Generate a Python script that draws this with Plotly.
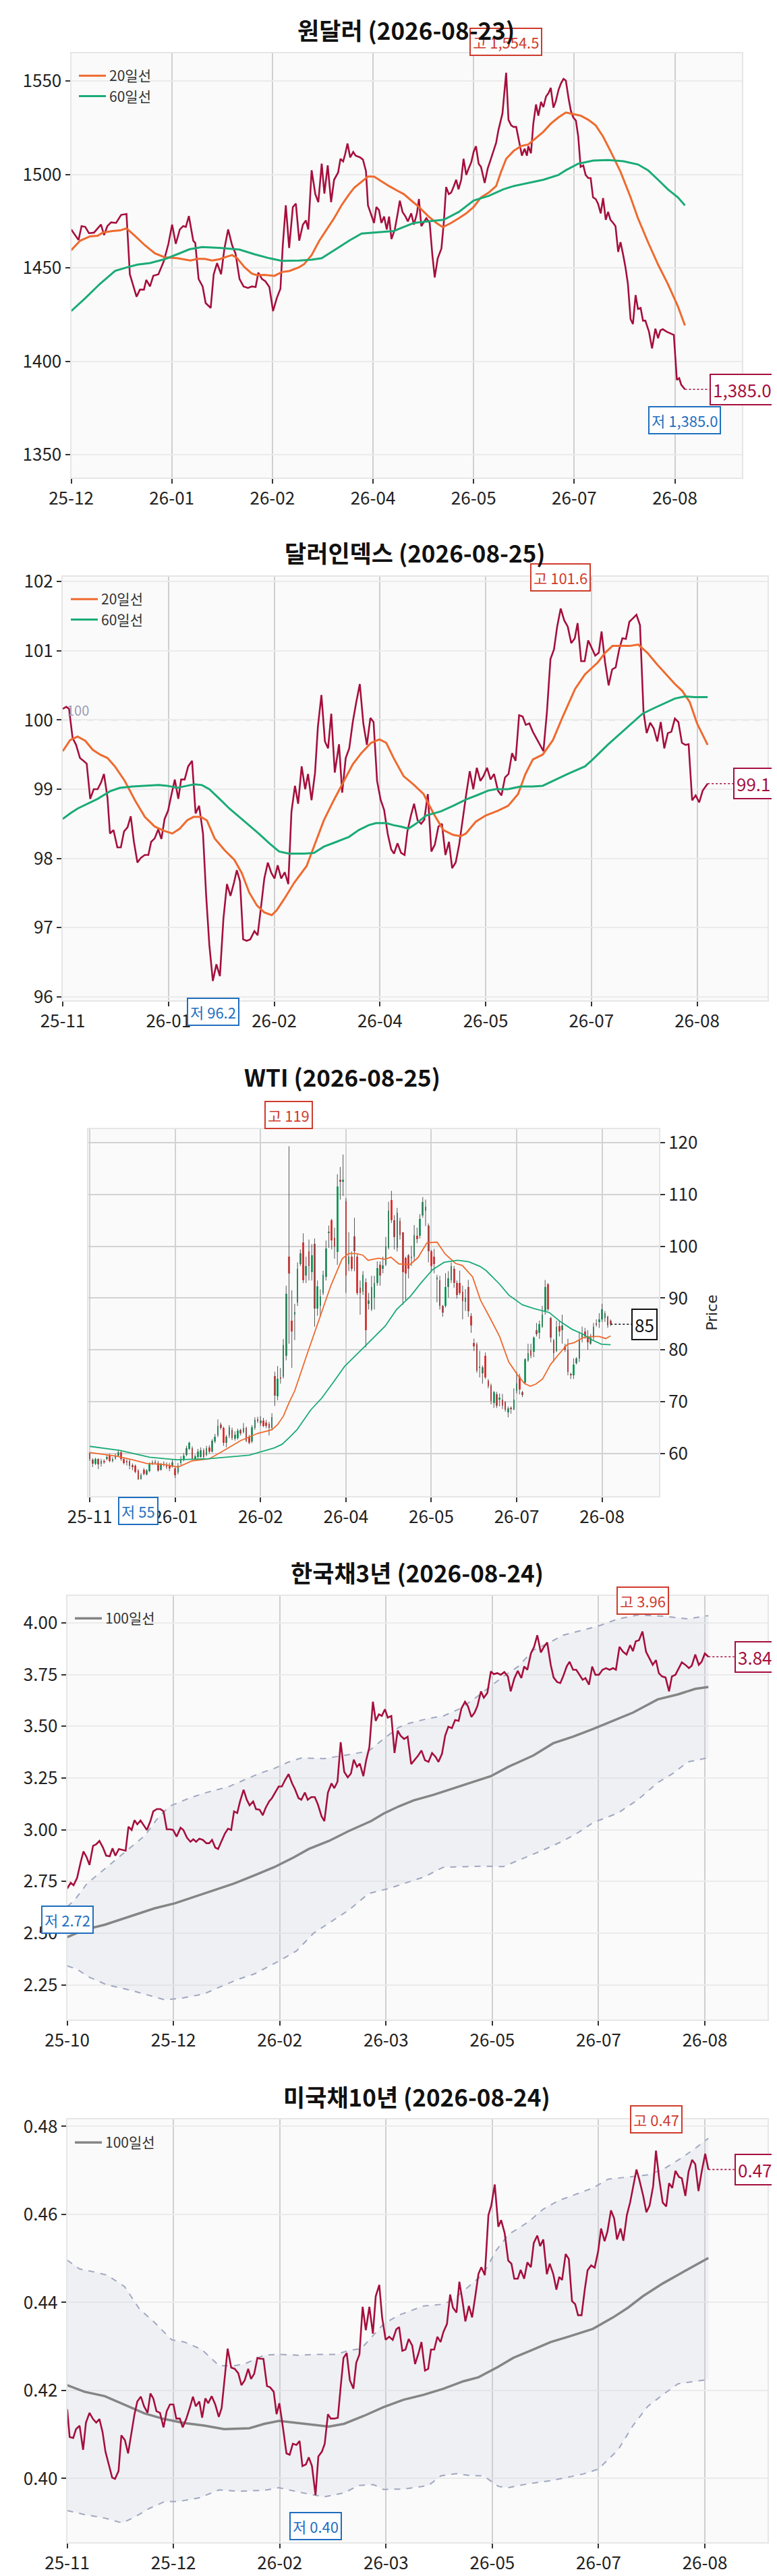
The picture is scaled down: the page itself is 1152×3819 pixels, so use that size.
import plotly.graph_objects as go

FONT = "Noto Sans CJK KR"
W, H = 1152, 3819

CRIMSON = "#a50f3d"
ORANGE = "#ef6a2e"
GREEN = "#1aab76"
GREY = "#858585"
BAND = "#a0a8c0"
HI = "#cf3b2c"
LO = "#1f6fbf"
UP = "#1db46e"
DOWN = "#fd3a3a"

TICK_POS = [0, 30, 60, 90, 120, 150, 180]

# ---------------- 원달러 ----------------
usd_title = "원달러 (2026-08-23)"
usd_ticks = ["25-12", "26-01", "26-02", "26-04", "26-05", "26-07", "26-08"]
usd_pts = [
    (0, 1470.6), (2.2, 1465.0), (3.1, 1472.4), (4.2, 1472.0), (5.3, 1468.6), (6.8, 1468.9), (8.9, 1473.2),
    (9.8, 1467.6), (10.8, 1472.4), (11.9, 1474.4), (13.4, 1474.1), (14.9, 1478.4), (16.5, 1478.9),
    (17.5, 1446.6), (19.5, 1434.6), (20.5, 1438.4), (21.7, 1438.4), (22.4, 1443.6), (23.5, 1440.1),
    (24.5, 1445.8), (26, 1446.6), (27.6, 1453.5), (29, 1462.9), (30.1, 1473.2), (31.2, 1462.9),
    (32.4, 1470.6), (33.4, 1472.4), (34.2, 1472.0), (35.1, 1477.8), (36.4, 1464.6), (37, 1463.4),
    (38, 1444.1), (39.2, 1440.1), (40.1, 1431.2), (41.6, 1428.6), (42.5, 1446.6), (43.5, 1452.6),
    (44.7, 1446.6), (45.7, 1460.4), (46.8, 1470.6), (48, 1462.1), (49, 1457.8), (50.2, 1444.1),
    (51.4, 1440.1), (52.7, 1439.3), (53.9, 1440.1), (55, 1439.8), (55.8, 1447.5), (56.9, 1444.1),
    (57.9, 1442.9), (59.1, 1439.8), (60.2, 1426.9), (61.3, 1433.8), (62.4, 1438.9), (63.1, 1462.1),
    (64, 1483.5), (65, 1460.7), (66.1, 1482.6), (67, 1484.4), (68, 1464.6), (69.1, 1473.2), (70, 1475.4),
    (70.7, 1470.6), (71.7, 1502.3), (72.8, 1489.5), (73.7, 1485.2), (74.7, 1505.8), (75.5, 1489.8),
    (76.5, 1504.9), (77.5, 1485.2), (78.4, 1497.2), (79.6, 1501.1), (80.3, 1508.4), (81.1, 1507.0),
    (81.7, 1510.9), (82.4, 1516.6), (83.2, 1509.2), (84.1, 1512.1), (84.8, 1510.1), (86.1, 1509.2),
    (87, 1508.0), (87.9, 1501.8), (88.5, 1483.5), (89.6, 1477.5), (90.3, 1474.1), (91, 1482.6),
    (91.8, 1480.9), (92.5, 1474.1), (93.3, 1477.5), (94.1, 1470.6), (94.8, 1477.5), (95.5, 1465.5),
    (96.5, 1470.6), (97.4, 1479.5), (98, 1486.0), (98.8, 1480.0), (99.7, 1477.5), (100.4, 1474.9),
    (101.4, 1479.2), (102.2, 1473.2), (103.1, 1479.2), (103.7, 1486.9), (104.4, 1472.4), (105.9, 1476.6),
    (106.9, 1474.1), (107.7, 1456.9), (108.4, 1444.9), (109.3, 1455.2), (110.4, 1460.4), (111.1, 1474.1),
    (111.8, 1493.3), (112.6, 1489.5), (113.3, 1490.3), (114.1, 1493.8), (114.8, 1497.2), (115.5, 1492.1),
    (116.3, 1497.2), (117, 1508.4), (117.8, 1499.8), (118.5, 1503.2), (119.3, 1506.6), (120, 1512.1),
    (120.7, 1515.2), (121.5, 1505.8), (122.2, 1504.1), (123.3, 1495.5), (124.2, 1503.2), (124.9, 1507.0),
    (125.9, 1512.6), (126.7, 1516.9), (127.4, 1523.8), (128.2, 1530.6), (128.6, 1532.7), (129.7, 1554.5),
    (130.4, 1529.3), (131.2, 1526.3), (131.9, 1525.5), (132.7, 1525.5), (133.4, 1518.6), (134.4, 1510.1),
    (135.2, 1513.8), (135.9, 1510.1), (136.3, 1515.2), (137.1, 1511.4), (137.8, 1527.2), (138.6, 1537.5),
    (139.3, 1531.5), (140.1, 1538.9), (140.8, 1536.1), (141.6, 1541.8), (142.3, 1543.5), (143, 1546.4),
    (143.8, 1535.8), (144.5, 1539.2), (145.3, 1545.2), (146, 1548.6), (146.8, 1551.2), (147.5, 1550.3),
    (148.3, 1540.9), (149, 1534.1), (149.7, 1530.6), (150.5, 1528.9), (151.2, 1520.3), (151.9, 1504.1),
    (152.7, 1504.9), (153.4, 1499.8), (154.2, 1498.1), (154.9, 1498.1), (155.6, 1487.8), (156.4, 1486.9),
    (157.1, 1484.4), (157.9, 1479.2), (158.6, 1487.4), (159.4, 1475.8), (160.1, 1480.0), (160.8, 1475.8),
    (161.6, 1474.1), (162.3, 1472.4), (163.1, 1458.6), (163.8, 1463.8), (164.6, 1456.9), (165.3, 1450.1),
    (166, 1441.5), (166.8, 1422.6), (167.5, 1420.0), (168.3, 1435.5), (169, 1428.1), (169.8, 1428.6),
    (170.5, 1421.8), (171.2, 1421.8), (172.3, 1415.8), (173.2, 1406.9), (174.2, 1417.5), (175, 1412.4),
    (175.7, 1416.6), (176.4, 1417.2), (177.6, 1415.8), (178.7, 1415.0), (179.7, 1414.1), (180.6, 1390.1),
    (181.3, 1391.0), (181.9, 1387.5), (183, 1385.0),
]
usd_ma20 = [
    (0, 1459.5), (2.7, 1464.6), (5.6, 1466.9), (7.9, 1467.2), (9.4, 1468.9), (12.3, 1469.8), (14.6, 1470.1),
    (16.5, 1471.2), (19, 1467.2), (22, 1462.1), (25, 1457.8), (27.9, 1455.7), (31.6, 1455.2), (35.6, 1454.0),
    (37.6, 1454.9), (39.8, 1454.9), (42, 1454.0), (44.3, 1454.7), (46.5, 1456.1), (48, 1456.9), (49.5, 1455.2),
    (51.7, 1450.4), (53.9, 1447.0), (55.4, 1446.1), (57.6, 1446.3), (60.6, 1445.8), (62.8, 1447.8),
    (65.1, 1448.4), (68, 1450.4), (69.5, 1452.1), (71.7, 1456.9), (74, 1464.6), (76.2, 1470.6), (78.4, 1476.6),
    (80.6, 1483.5), (82.9, 1489.5), (84.4, 1492.9), (86.6, 1496.3), (88.5, 1498.9), (90.3, 1498.9),
    (92.5, 1496.3), (94.8, 1493.8), (97, 1491.6), (99.2, 1489.5), (101.4, 1486.1), (103.7, 1482.6),
    (106.6, 1477.5), (108.9, 1474.1), (110.8, 1471.8), (113.3, 1474.1), (115.6, 1476.6), (117.8, 1479.2),
    (120, 1482.6), (122.2, 1487.8), (124.5, 1490.3), (126.7, 1493.8), (128.2, 1501.5), (129.7, 1508.4),
    (131.9, 1512.6), (134.1, 1515.2), (136.3, 1516.1), (138.6, 1519.5), (140.8, 1522.9), (143, 1527.2),
    (145.3, 1530.6), (147.5, 1533.2), (149.7, 1532.3), (151.9, 1531.5), (154.2, 1529.3), (156.4, 1526.3),
    (158.6, 1520.3), (160.8, 1512.6), (163.8, 1501.5), (166.8, 1487.8), (169, 1476.6), (172, 1463.8),
    (175, 1451.8), (177.9, 1441.5), (180.9, 1429.5), (183, 1419.2),
]
usd_ma60 = [
    (0, 1426.9), (4.2, 1433.8), (8.6, 1441.5), (13.1, 1448.4), (16.8, 1450.4), (19.8, 1451.8), (23.5, 1452.6),
    (27.9, 1454.7), (31.6, 1457.3), (35.3, 1460.0), (39.1, 1461.2), (44.3, 1460.7), (50.2, 1459.8),
    (54.7, 1457.3), (59.1, 1455.2), (62.8, 1453.8), (68, 1454.0), (71.7, 1454.4), (74.7, 1455.2),
    (78.4, 1459.5), (82.9, 1464.6), (86.6, 1468.4), (89.6, 1468.9), (96.2, 1469.8), (99.2, 1472.0),
    (102.2, 1474.1), (105.9, 1474.8), (111.1, 1475.8), (115.6, 1480.0), (120, 1486.1), (124.5, 1488.6),
    (128.9, 1492.1), (131.9, 1493.8), (136.3, 1495.5), (140.8, 1497.2), (145.3, 1499.8), (147.5, 1502.3),
    (151.2, 1505.8), (155.7, 1507.5), (160.1, 1507.8), (164.6, 1507.1), (169, 1505.4), (172, 1502.3),
    (175, 1497.2), (177.9, 1492.1), (180.9, 1487.8), (183, 1483.5),
]

# ---------------- 달러인덱스 ----------------
dxy_title = "달러인덱스 (2026-08-25)"
dxy_ticks = ["25-11", "26-01", "26-02", "26-04", "26-05", "26-07", "26-08"]
dxy_pts = [
    (0, 100.16), (1, 100.19), (1.8, 100.16), (2.8, 99.74), (3.8, 99.64), (4.9, 99.45), (5.9, 99.41),
    (6.8, 99.37), (7.8, 98.86), (8.8, 99.00), (9.9, 99.00), (10.9, 99.10), (11.7, 99.22), (12.7, 98.88),
    (13.4, 98.36), (14.4, 98.41), (15.5, 98.16), (16.5, 98.16), (17.4, 98.39), (18.4, 98.45), (19.3, 98.61),
    (20.2, 98.24), (21.2, 97.94), (22.2, 98.01), (23.3, 98.05), (24.3, 98.05), (25.1, 98.24), (26.1, 98.29),
    (27.1, 98.42), (28, 98.28), (28.9, 98.57), (29.9, 98.69), (30.8, 98.91), (31.8, 99.14), (32.8, 98.86),
    (33.6, 99.14), (34.6, 99.14), (35.6, 99.33), (36.7, 99.41), (37.7, 98.65), (38.7, 98.76), (39.8, 98.36),
    (40.7, 97.46), (41.6, 96.75), (42.6, 96.23), (43.6, 96.47), (44.6, 96.30), (45.6, 97.13), (46.6, 97.63),
    (47.6, 97.46), (48.6, 97.65), (49.4, 97.83), (50.3, 97.67), (51.2, 96.83), (52.2, 96.81), (53.2, 96.83),
    (54.4, 96.95), (55.3, 96.89), (56.2, 97.27), (57.2, 97.71), (58.2, 97.94), (59.2, 97.79), (60.1, 97.71),
    (61, 97.90), (62, 97.71), (63, 97.80), (64, 97.63), (64.9, 98.67), (65.9, 99.05), (66.8, 98.79),
    (67.8, 99.33), (68.8, 99.00), (69.6, 99.22), (70.6, 98.84), (71.6, 99.24), (72.4, 99.90), (73.4, 100.36),
    (74.4, 99.69), (75.3, 99.59), (76.2, 100.09), (77.2, 99.24), (78.4, 99.65), (79.3, 98.95), (80.3, 99.45),
    (81.3, 99.59), (82.3, 99.97), (83.3, 100.26), (84.3, 100.52), (85.3, 99.95), (86.3, 99.64), (87.3, 100.03),
    (88.2, 99.97), (89.2, 99.12), (90.2, 98.85), (91.2, 98.70), (92.2, 98.36), (93.2, 98.13), (94, 98.07),
    (95, 98.22), (96, 98.08), (97, 98.05), (97.8, 98.39), (98.8, 98.62), (99.7, 98.79), (100.7, 98.55),
    (101.7, 98.50), (102.6, 98.56), (103.6, 98.93), (104.6, 98.10), (105.6, 98.20), (106.6, 98.46),
    (107.6, 98.50), (108.6, 98.05), (109.6, 98.24), (110.5, 97.86), (111.5, 97.94), (112.5, 98.20),
    (113.5, 98.58), (114.5, 98.93), (115.5, 99.26), (116.5, 99.00), (117.5, 99.31), (118.5, 99.12),
    (119.4, 99.19), (120.4, 99.31), (121.4, 99.14), (122.4, 99.22), (123.5, 98.98), (124.5, 98.91),
    (125.5, 99.17), (126.5, 99.22), (127.5, 99.52), (128.5, 99.41), (129.5, 100.07), (130.5, 100.05),
    (131.4, 99.93), (132.4, 99.95), (133.4, 99.83), (134.4, 99.74), (135.4, 99.64), (136.4, 99.55),
    (137.4, 100.12), (138.4, 100.88), (139.4, 101.02), (140.3, 101.35), (141.3, 101.61), (142.3, 101.44),
    (143.3, 101.35), (144.3, 101.11), (145.3, 101.18), (146.1, 101.40), (147.1, 100.85), (148.1, 100.85),
    (149.1, 101.15), (150.1, 101.04), (151.1, 100.93), (152.1, 100.97), (152.9, 101.28), (153.9, 100.83),
    (154.9, 100.50), (155.9, 100.73), (156.9, 100.76), (157.9, 101.02), (158.8, 101.18), (159.8, 101.17),
    (160.8, 101.42), (161.8, 101.47), (162.8, 101.52), (163.8, 101.37), (164.8, 100.12), (165.7, 99.81),
    (166.7, 99.96), (167.7, 99.88), (168.7, 99.69), (169.7, 99.97), (170.7, 99.59), (171.7, 99.81),
    (172.7, 99.83), (173.7, 100.02), (174.7, 99.97), (175.7, 99.67), (176.7, 99.64), (177.6, 99.65),
    (178.6, 98.84), (179.6, 98.91), (180.6, 98.81), (181.6, 98.98), (183, 99.08),
]
dxy_ma20 = [
    (0, 99.55), (2.1, 99.71), (4.2, 99.76), (6.4, 99.70), (8.5, 99.57), (10.6, 99.50), (12.7, 99.45),
    (14.8, 99.33), (17.6, 99.12), (20.5, 98.84), (23.3, 98.60), (26.1, 98.46), (28.7, 98.40), (31.1, 98.36),
    (33.2, 98.43), (35.3, 98.55), (37.1, 98.60), (39.2, 98.60), (40.9, 98.55), (43.1, 98.29), (45.9, 98.12),
    (48.7, 97.98), (50.8, 97.79), (52.9, 97.51), (55.1, 97.32), (57.2, 97.22), (59.3, 97.18), (60.7, 97.25),
    (62.8, 97.41), (65.7, 97.65), (69.2, 97.89), (71.3, 98.17), (74.1, 98.55), (76.9, 98.84), (79.8, 99.12),
    (82.3, 99.36), (84.7, 99.52), (87.5, 99.67), (89.9, 99.72), (91.8, 99.67), (93.9, 99.45), (96.7, 99.19),
    (99.5, 99.07), (102.4, 98.93), (105.2, 98.65), (108, 98.41), (110.8, 98.34), (112.9, 98.32),
    (114.4, 98.36), (117.2, 98.53), (120, 98.62), (123.5, 98.69), (126.4, 98.76), (129.2, 98.93),
    (131.3, 99.22), (133.4, 99.43), (136.2, 99.50), (139.1, 99.71), (141.9, 100.05), (145.4, 100.45),
    (148.2, 100.66), (151.8, 100.83), (153.9, 100.97), (156, 101.07), (158.8, 101.07), (160.9, 101.07),
    (163.3, 101.09), (165.9, 100.97), (168.7, 100.80), (171.5, 100.64), (173.7, 100.52), (175.8, 100.42),
    (177.9, 100.26), (180, 99.95), (183, 99.64),
]
dxy_ma60 = [
    (0, 98.57), (2.1, 98.65), (4.2, 98.72), (7.1, 98.79), (9.9, 98.86), (13.4, 98.97), (16.2, 99.02),
    (19.8, 99.04), (24, 99.05), (27.2, 99.06), (29.6, 99.05), (32.5, 99.02), (35.3, 99.05), (37.4, 99.07),
    (39.5, 99.06), (41.6, 99.00), (44.5, 98.86), (47.3, 98.72), (50.1, 98.60), (52.9, 98.48), (55.8, 98.35),
    (58.6, 98.22), (61.4, 98.10), (64.2, 98.07), (68.5, 98.07), (71.3, 98.08), (74.1, 98.17), (77.7, 98.24),
    (81.2, 98.31), (84, 98.41), (86.8, 98.48), (88.9, 98.51), (91.8, 98.51), (93.9, 98.48), (96, 98.46),
    (98.1, 98.43), (100.2, 98.50), (103.1, 98.62), (107.3, 98.68), (110.8, 98.76), (114.4, 98.85),
    (117.9, 98.92), (120.7, 98.98), (122.8, 99.00), (126.4, 99.00), (129.9, 99.04), (133.4, 99.04),
    (136.2, 99.05), (139.1, 99.12), (143.3, 99.22), (148.2, 99.33), (150.4, 99.43), (154.6, 99.64),
    (158.8, 99.83), (162.4, 100.00), (164.5, 100.09), (167.3, 100.16), (170.8, 100.24), (173.7, 100.31),
    (176.5, 100.34), (179.3, 100.33), (183, 100.33),
]
dxy_ref = 100

# ---------------- WTI ----------------
wti_title = "WTI (2026-08-25)"
wti_ticks = ["25-11", "26-01", "26-02", "26-04", "26-05", "26-07", "26-08"]
wti_open = [
    59.95, 58.8, 58.1, 58.9, 58.0, 58.6, 58.9, 59.6, 58.6, 59.1,
    59.6, 60.2, 58.9, 58.6, 58.6, 57.8, 57.6, 56.7, 55.1, 56.9,
    56.0, 56.6, 58.1, 58.4, 58.2, 56.9, 57.9, 57.9, 57.8, 57.6,
    57.1, 56.4, 58.2, 58.8, 59.8, 60.9, 61.1, 59.0, 59.3, 59.4,
    60.7, 59.7, 61.2, 60.4, 62.3, 63.5, 65.6, 64.9, 62.1, 63.5,
    64.5, 62.9, 63.0, 64.5, 64.2, 64.9, 63.2, 62.3, 65.0, 66.6,
    65.8, 66.4, 66.0, 65.7, 64.9, 75.0, 71.0, 74.7, 74.9, 78.9,
    98.0, 85.65, 86.8, 89.2, 96.6, 100.8, 94.3, 99.1, 95.0, 100.5,
    88.0, 88.5, 91.0, 94.1, 102.6, 105.0, 101.7, 98.9, 112.9, 112.4,
    108.7, 96.6, 98.0, 101.9, 98.0, 92.0, 91.3, 93.1, 88.9, 87.8,
    90.0, 92.9, 96.5, 95.7, 96.4, 99.7, 109.0, 105.0, 99.7, 104.9,
    102.7, 97.8, 98.3, 97.8, 98.0, 102.0, 102.0, 106.0, 106.9, 104.0,
    99.0, 98.0, 93.6, 93.4, 88.5, 88.5, 92.2, 93.4, 95.7, 92.9,
    92.9, 91.3, 89.25, 92.2, 86.6, 81.3, 81.07, 76.54, 75.5, 78.9,
    74.1, 73.2, 69.8, 71.5, 70.5, 70.4, 70.0, 68.0, 68.8, 68.5,
    72.1, 74.9, 71.9, 73.7, 77.9, 79.9, 79.6, 83.8, 83.3, 84.5,
    87.3, 92.7, 86.1, 81.9, 79.8, 84.6, 83.8, 80.75, 80.05, 75.4,
    75.1, 77.5, 78.4, 82.15, 83.5, 82.7, 81.2, 82.4, 85.0, 85.4,
    85.9, 86.1, 86.4, 85.65,
]
wti_close = [
    59.0, 58.1, 58.9, 57.9, 58.6, 58.3, 59.3, 58.6, 58.9, 59.6,
    60.2, 58.9, 58.2, 58.4, 57.6, 57.4, 56.5, 55.1, 55.9, 56.1,
    56.7, 58.0, 58.3, 58.2, 56.8, 57.9, 58.1, 57.4, 57.2, 58.3,
    55.9, 57.6, 59.0, 59.6, 61.1, 62.1, 59.0, 59.5, 60.4, 60.7,
    59.4, 61.1, 60.4, 62.5, 63.2, 65.4, 64.9, 62.1, 63.2, 65.1,
    63.0, 63.6, 64.4, 63.9, 64.9, 62.5, 62.1, 65.1, 66.5, 66.2,
    66.4, 65.4, 65.3, 65.0, 67.0, 71.2, 74.5, 74.4, 81.0, 90.8,
    94.8, 83.55, 87.3, 95.7, 98.7, 93.4, 96.2, 96.2, 98.3, 88.0,
    92.3, 90.3, 94.5, 99.5, 102.8, 101.1, 100.0, 111.5, 112.4, 112.9,
    94.3, 98.0, 95.7, 99.0, 91.0, 91.0, 94.5, 83.8, 89.6, 92.2,
    92.9, 95.8, 94.3, 96.3, 99.9, 106.8, 105.0, 101.8, 106.4, 102.2,
    95.0, 94.8, 95.7, 98.0, 102.2, 101.4, 105.3, 108.55, 107.6, 99.0,
    96.2, 96.6, 94.0, 88.5, 87.2, 92.2, 93.8, 96.2, 92.9, 90.6,
    91.0, 89.4, 90.09, 87.5, 84.7, 80.65, 76.07, 76.78, 76.6, 74.7,
    73.0, 70.1, 71.9, 69.2, 70.75, 69.3, 68.5, 68.7, 68.6, 70.4,
    73.5, 72.3, 71.3, 78.2, 79.35, 78.9, 82.4, 83.1, 84.95, 86.8,
    92.2, 87.8, 82.4, 79.35, 84.5, 83.55, 84.7, 80.05, 75.7, 75.1,
    77.24, 78.4, 81.9, 83.2, 82.7, 81.45, 82.4, 84.5, 84.9, 85.9,
    87.8, 87.1, 84.7, 84.95,
]
wti_high = [
    60.3, 59.1, 59.2, 59.1, 59.0, 58.9, 59.7, 60.0, 59.3, 60.0,
    60.8, 60.5, 59.2, 58.9, 58.9, 58.1, 57.9, 57.0, 56.2, 57.2,
    57.0, 58.3, 58.7, 58.8, 58.6, 58.2, 58.5, 58.3, 58.2, 58.9,
    57.5, 58.2, 59.5, 60.1, 61.5, 62.3, 61.4, 59.8, 60.9, 61.2,
    61.0, 61.5, 61.6, 62.8, 63.8, 66.6, 66.0, 65.2, 63.6, 65.5,
    65.0, 64.3, 64.8, 64.8, 65.9, 65.2, 63.6, 65.5, 67.0, 67.1,
    67.2, 66.9, 66.5, 66.1, 67.8, 75.8, 76.9, 76.5, 82.1, 92.4,
    119.3, 91.5, 88.9, 96.9, 99.4, 102.5, 98.0, 101.3, 100.4, 101.5,
    93.4, 91.7, 95.3, 101.1, 104.0, 105.3, 103.6, 113.9, 115.3, 117.7,
    109.3, 102.7, 99.0, 105.5, 98.5, 93.4, 95.2, 93.8, 91.0, 94.3,
    94.3, 97.1, 97.1, 98.0, 101.8, 108.6, 110.7, 106.0, 107.4, 105.5,
    102.7, 98.0, 98.5, 100.1, 104.1, 103.6, 106.2, 109.5, 109.0, 104.4,
    99.3, 99.5, 94.5, 94.3, 88.7, 94.8, 95.2, 96.9, 96.2, 93.4,
    95.3, 92.4, 91.73, 93.5, 87.1, 82.2, 81.45, 79.8, 77.0, 79.5,
    74.4, 73.5, 72.1, 71.9, 71.6, 71.5, 70.1, 69.1, 69.1, 72.6,
    75.8, 75.4, 72.1, 78.4, 81.2, 81.2, 82.6, 85.2, 85.65, 88.5,
    93.5, 92.9, 86.4, 82.15, 85.65, 85.65, 86.8, 81.2, 82.15, 75.6,
    78.4, 78.6, 83.55, 84.5, 84.25, 83.8, 83.1, 85.2, 85.9, 87.1,
    88.9, 87.5, 86.6, 85.9,
]
wti_low = [
    58.6, 57.4, 57.8, 57.0, 57.5, 58.0, 58.7, 58.3, 58.3, 58.8,
    59.4, 58.6, 57.9, 57.7, 57.0, 56.8, 56.2, 54.9, 55.0, 55.8,
    55.8, 56.4, 57.8, 57.9, 56.5, 56.7, 57.5, 57.0, 56.6, 57.3,
    55.3, 56.0, 57.8, 58.5, 59.5, 60.7, 58.8, 58.8, 59.1, 59.2,
    59.1, 59.5, 60.0, 60.2, 62.0, 63.2, 64.6, 61.5, 61.2, 63.0,
    62.6, 62.5, 62.7, 63.5, 63.9, 62.2, 61.8, 62.0, 64.6, 65.9,
    65.3, 65.1, 64.9, 63.5, 64.5, 69.2, 70.3, 73.5, 74.5, 78.0,
    81.2, 76.54, 81.9, 88.5, 96.2, 92.9, 92.9, 93.4, 93.4, 84.5,
    86.6, 86.4, 90.6, 93.4, 99.7, 99.4, 97.6, 96.4, 109.0, 109.7,
    91.0, 95.2, 95.2, 95.2, 90.6, 86.8, 90.6, 80.5, 87.8, 87.5,
    87.8, 92.4, 92.4, 94.8, 96.2, 99.4, 104.5, 99.4, 99.0, 101.3,
    88.7, 89.6, 93.8, 96.2, 97.1, 100.6, 101.5, 105.5, 103.9, 96.9,
    95.0, 94.8, 89.2, 87.8, 86.4, 88.2, 90.1, 92.9, 92.0, 89.9,
    90.6, 85.9, 87.52, 86.4, 83.3, 79.8, 75.6, 74.7, 73.5, 74.4,
    72.6, 69.5, 68.8, 68.8, 69.1, 68.6, 68.1, 67.0, 67.7, 68.4,
    71.6, 71.4, 70.9, 73.4, 77.7, 78.4, 78.6, 82.6, 82.15, 84.25,
    86.8, 87.5, 81.45, 77.7, 79.6, 82.6, 81.2, 79.6, 75.1, 74.4,
    74.4, 77.2, 77.7, 81.45, 82.15, 80.05, 81.0, 81.9, 84.5, 84.25,
    85.4, 85.4, 84.25, 84.6,
]
wti_ma20 = [
    (0, 60.2), (9.5, 59.5), (15, 58.8), (20, 58.1), (26, 57.9), (31, 57.4), (36, 58.6), (42, 59.0),
    (46.5, 60.4), (53, 62.5), (59, 63.9), (64, 64.6), (66, 65.6), (68, 67.2), (70, 69.8), (72, 72.1),
    (76, 78.6), (80, 85.0), (84.7, 92.4), (88.7, 97.6), (91, 98.6), (93.5, 98.6), (95.9, 98.3), (97.8, 97.3),
    (101.4, 97.7), (103.8, 97.5), (105.8, 97.9), (108.6, 96.6), (112.6, 96.5), (115.3, 97.8), (118.5, 100.7),
    (122, 100.8), (124.9, 98.5), (128.5, 96.7), (130.9, 96.3), (134.5, 94.1), (137.3, 89.6), (140.9, 85.9),
    (144, 82.6), (147.2, 77.7), (150.4, 75.1), (152.8, 73.5), (154.8, 73.0), (156.7, 73.4), (159.1, 74.4),
    (161.9, 77.2), (164.7, 79.1), (167.9, 81.1), (170.2, 81.4), (173.4, 82.4), (176.6, 82.6), (179, 82.6),
    (181.3, 82.2), (183, 82.7),
]
wti_ma60 = [
    (0, 61.4), (10.7, 60.6), (21, 59.3), (30.6, 58.8), (41.7, 59.0), (56, 59.7), (64.8, 61.1), (67.6, 61.8),
    (70.3, 63.2), (72.8, 64.6), (77.6, 68.4), (81.5, 70.7), (85.5, 73.7), (89.5, 76.8), (95.9, 80.3),
    (103.8, 84.6), (107.8, 87.8), (112.6, 90.3), (116.5, 93.0), (120.5, 95.5), (124.5, 96.9), (129.3, 97.3),
    (133.2, 97.0), (137.2, 96.1), (139.3, 95.3), (144, 92.7), (147.2, 90.6), (152, 88.7), (156, 88.0),
    (161.5, 87.2), (165.5, 85.4), (169.4, 84.0), (173.4, 83.0), (176.6, 81.9), (179.8, 81.1), (183, 81.0),
]

# ---------------- 한국채3년 ----------------
kr_title = "한국채3년 (2026-08-24)"
kr_ticks = ["25-10", "25-12", "26-02", "26-03", "26-05", "26-07", "26-08"]
kr_pts = [
    (0, 2.716), (1, 2.744), (1.8, 2.732), (2.8, 2.767), (3.8, 2.843), (4.6, 2.895), (5.5, 2.867), (6.3, 2.830),
    (7.3, 2.922), (8.2, 2.930), (9.1, 2.946), (10.1, 2.914), (11, 2.875), (12, 2.872), (12.8, 2.910),
    (13.6, 2.875), (14.6, 2.907), (15.6, 2.903), (16.5, 2.899), (17.3, 3.015), (18.2, 2.999), (19, 3.046),
    (19.8, 3.026), (20.7, 3.045), (21.5, 3.026), (22.5, 2.999), (23.5, 3.042), (24.3, 3.089), (25.3, 3.100),
    (26.3, 3.100), (27.2, 3.089), (28.1, 3.002), (29.1, 3.002), (29.9, 2.999), (30.9, 2.967), (32, 3.010),
    (32.8, 2.999), (33.8, 2.962), (34.8, 2.942), (35.6, 2.954), (36.4, 2.942), (37.3, 2.957), (38.3, 2.951),
    (39.3, 2.935), (40.1, 2.935), (40.9, 2.951), (41.8, 2.914), (42.6, 2.907), (43.6, 2.946), (44.5, 2.981),
    (45.4, 3.005), (46.3, 2.999), (47.1, 3.089), (48, 3.081), (48.8, 3.137), (49.8, 3.193), (50.7, 3.145),
    (51.5, 3.118), (52.5, 3.137), (53.3, 3.100), (54.3, 3.097), (55.2, 3.070), (56, 3.105), (57, 3.137),
    (57.8, 3.153), (58.8, 3.185), (59.7, 3.209), (60.6, 3.209), (61.5, 3.240), (62.5, 3.269), (63.5, 3.224),
    (64.3, 3.196), (65.3, 3.153), (66.1, 3.145), (67.1, 3.180), (67.9, 3.145), (68.9, 3.158), (69.9, 3.158),
    (70.8, 3.121), (71.8, 3.065), (72.6, 3.042), (73.6, 3.180), (74.6, 3.224), (75.4, 3.201), (76.3, 3.232),
    (77.2, 3.423), (78.2, 3.280), (79.2, 3.253), (80.1, 3.272), (80.9, 3.339), (81.8, 3.304), (82.6, 3.320),
    (83.6, 3.259), (84.4, 3.336), (85.3, 3.399), (86.3, 3.619), (87.1, 3.526), (88, 3.558), (88.8, 3.550),
    (89.7, 3.582), (90.5, 3.542), (91.5, 3.550), (92.4, 3.371), (93.3, 3.479), (94.1, 3.455), (95.1, 3.439),
    (96.1, 3.450), (97.1, 3.317), (98.1, 3.339), (99.1, 3.359), (100, 3.383), (101, 3.336), (102, 3.328),
    (103, 3.371), (104, 3.352), (104.8, 3.328), (105.8, 3.367), (106.7, 3.455), (107.6, 3.498), (108.6, 3.491),
    (109.5, 3.530), (110.5, 3.526), (111.3, 3.587), (112.3, 3.619), (113.1, 3.598), (114.1, 3.545),
    (115, 3.566), (115.8, 3.598), (116.8, 3.669), (117.6, 3.638), (118.6, 3.661), (119.6, 3.765),
    (120.4, 3.752), (121.4, 3.757), (122.4, 3.749), (123.4, 3.762), (124.4, 3.741), (125.2, 3.669),
    (126.2, 3.730), (127.2, 3.768), (128.2, 3.733), (129, 3.789), (129.9, 3.773), (130.9, 3.852),
    (131.8, 3.884), (132.7, 3.940), (133.7, 3.857), (134.6, 3.884), (135.5, 3.905), (136.5, 3.797),
    (137.3, 3.736), (138.3, 3.714), (139.2, 3.709), (140, 3.741), (141, 3.789), (141.8, 3.812), (142.8, 3.773),
    (143.7, 3.773), (144.5, 3.752), (145.5, 3.725), (146.3, 3.733), (147.3, 3.701), (148.2, 3.789),
    (149.1, 3.749), (150.1, 3.749), (151.1, 3.773), (152.1, 3.781), (153.1, 3.773), (154.1, 3.781),
    (154.9, 3.773), (155.9, 3.884), (156.9, 3.860), (157.9, 3.847), (158.9, 3.892), (159.7, 3.863),
    (160.5, 3.911), (161.4, 3.916), (162.4, 3.958), (163.4, 3.860), (164.4, 3.828), (165.3, 3.797),
    (166.2, 3.820), (167, 3.757), (167.9, 3.741), (168.9, 3.736), (169.9, 3.669), (170.7, 3.741),
    (171.7, 3.749), (172.7, 3.781), (173.5, 3.809), (174.5, 3.797), (175.5, 3.781), (176.3, 3.793),
    (177.3, 3.847), (178.3, 3.797), (179.1, 3.812), (180, 3.852), (181, 3.836),
]
kr_ma100 = [
    (0, 2.481), (4.9, 2.517), (10.6, 2.541), (16.2, 2.573), (20.4, 2.597), (24.6, 2.620), (30.3, 2.644),
    (35.9, 2.676), (41.5, 2.708), (47.1, 2.740), (52.8, 2.779), (58.4, 2.819), (64, 2.867), (68.2, 2.907),
    (73.9, 2.946), (79.5, 2.994), (85.8, 3.042), (89.3, 3.078), (93.6, 3.113), (97.8, 3.142), (103.4, 3.169),
    (109, 3.201), (114.7, 3.232), (119.6, 3.259), (124.5, 3.304), (131.6, 3.359), (137.2, 3.418),
    (142.8, 3.450), (148.4, 3.487), (154.1, 3.526), (159.7, 3.566), (166.7, 3.630), (172.4, 3.654),
    (177.3, 3.681), (181, 3.690),
]
kr_upper = [
    (0, 2.628), (2.1, 2.660), (5.6, 2.740), (10.6, 2.811), (16.2, 2.891), (21.8, 2.970), (25.3, 3.050),
    (28.8, 3.113), (34.5, 3.153), (38.7, 3.177), (45.7, 3.209), (50, 3.240), (54.2, 3.272), (58.4, 3.296),
    (62.6, 3.328), (66.1, 3.347), (72.5, 3.344), (78.1, 3.359), (85.1, 3.380), (89.3, 3.439), (93.6, 3.495),
    (96.4, 3.514), (102, 3.538), (106.2, 3.550), (110.5, 3.582), (114.7, 3.630), (118.9, 3.685),
    (123.1, 3.741), (127.3, 3.789), (131.6, 3.868), (136.5, 3.908), (140, 3.940), (144.2, 3.959),
    (149.9, 3.984), (155.5, 4.019), (161.1, 4.038), (168.1, 4.032), (175.2, 4.019), (181, 4.035),
]
kr_lower = [
    (0, 2.342), (2.8, 2.326), (6.3, 2.287), (11.3, 2.250), (17.6, 2.226), (23.2, 2.199), (27.4, 2.179),
    (31.7, 2.184), (38.7, 2.207), (42.9, 2.239), (48.5, 2.279), (52.8, 2.303), (59.8, 2.366), (64.7, 2.414),
    (69.6, 2.501), (73.9, 2.549), (79.5, 2.612), (85.1, 2.692), (90.8, 2.716), (95, 2.740), (100.6, 2.771),
    (106.2, 2.819), (111.9, 2.822), (117.5, 2.824), (123.1, 2.822), (128.7, 2.862), (134.4, 2.902),
    (140, 2.946), (144.2, 2.986), (148.4, 3.034), (155.5, 3.081), (161.1, 3.145), (166.7, 3.228),
    (171, 3.272), (175.2, 3.328), (181, 3.348),
]

# ---------------- 미국채10년 ----------------
us_title = "미국채10년 (2026-08-24)"
us_ticks = ["25-11", "25-12", "26-02", "26-03", "26-05", "26-07", "26-08"]
us_pts = [
    (0, 0.4157), (0.7, 0.4094), (1.7, 0.4092), (2.5, 0.4112), (3.5, 0.4120), (4.5, 0.4065), (5.3, 0.4127),
    (6.3, 0.4149), (7.3, 0.4135), (8.2, 0.4127), (9.1, 0.4135), (10, 0.4105), (10.8, 0.4061), (11.7, 0.4035),
    (12.7, 0.4002), (13.5, 0.3999), (14.5, 0.4017), (15.3, 0.4098), (16.3, 0.4087), (17.2, 0.4057),
    (18.2, 0.4109), (19, 0.4146), (19.8, 0.4175), (20.8, 0.4186), (21.7, 0.4164), (22.7, 0.4149),
    (23.5, 0.4193), (24.3, 0.4182), (25.2, 0.4153), (26.2, 0.4149), (27.2, 0.4116), (28.1, 0.4153),
    (29, 0.4168), (30, 0.4168), (30.8, 0.4136), (31.8, 0.4136), (32.6, 0.4116), (33.6, 0.4135),
    (34.6, 0.4160), (35.5, 0.4186), (36.3, 0.4164), (37.3, 0.4175), (38.1, 0.4138), (39, 0.4182),
    (39.8, 0.4171), (40.8, 0.4187), (41.8, 0.4168), (42.8, 0.4140), (43.6, 0.4160), (44.5, 0.4226),
    (45.3, 0.4295), (46.3, 0.4252), (47.3, 0.4249), (48.3, 0.4239), (49.2, 0.4212), (50.1, 0.4223),
    (51.1, 0.4249), (51.9, 0.4226), (52.8, 0.4238), (53.7, 0.4274), (54.6, 0.4272), (55.4, 0.4272),
    (56.4, 0.4210), (57.3, 0.4207), (58.3, 0.4197), (59.1, 0.4146), (59.9, 0.4171), (60.9, 0.4116),
    (61.9, 0.4057), (62.8, 0.4054), (63.7, 0.4079), (64.7, 0.4076), (65.6, 0.4085), (66.4, 0.4028),
    (67.4, 0.4032), (68.2, 0.4048), (69.1, 0.4028), (70.1, 0.3962), (70.9, 0.4050), (71.9, 0.4061),
    (72.7, 0.4079), (73.6, 0.4146), (74.4, 0.4136), (75.4, 0.4136), (76.4, 0.4138), (77.2, 0.4208),
    (78, 0.4274), (78.9, 0.4285), (79.8, 0.4223), (80.8, 0.4204), (81.6, 0.4263), (82.5, 0.4282),
    (83.4, 0.4390), (84.3, 0.4337), (85.3, 0.4390), (86.3, 0.4329), (87.1, 0.4414), (88.1, 0.4440),
    (88.9, 0.4366), (89.9, 0.4315), (90.9, 0.4322), (91.9, 0.4315), (92.9, 0.4339), (93.7, 0.4344),
    (94.6, 0.4290), (95.5, 0.4293), (96.4, 0.4317), (97.4, 0.4302), (98.2, 0.4260), (99.2, 0.4285),
    (100, 0.4310), (101, 0.4245), (101.9, 0.4249), (102.7, 0.4293), (103.6, 0.4293), (104.5, 0.4322),
    (105.4, 0.4310), (106.2, 0.4333), (107.2, 0.4351), (108.1, 0.4418), (108.9, 0.4388), (109.9, 0.4377),
    (110.7, 0.4447), (111.6, 0.4403), (112.4, 0.4357), (113.4, 0.4392), (114.3, 0.4366), (115.2, 0.4414),
    (116.1, 0.4465), (116.9, 0.4480), (117.9, 0.4462), (118.9, 0.4598), (119.7, 0.4620), (120.7, 0.4668),
    (121.7, 0.4572), (122.5, 0.4587), (123.5, 0.4557), (124.5, 0.4495), (125.4, 0.4488), (126.2, 0.4454),
    (127.2, 0.4454), (128, 0.4474), (129, 0.4454), (129.9, 0.4491), (130.9, 0.4480), (131.7, 0.4535),
    (132.7, 0.4552), (133.5, 0.4528), (134.4, 0.4543), (135.4, 0.4464), (136.2, 0.4488), (137.2, 0.4465),
    (138.1, 0.4429), (138.9, 0.4458), (139.7, 0.4451), (140.7, 0.4510), (141.6, 0.4499), (142.5, 0.4403),
    (143.4, 0.4396), (144.2, 0.4371), (145.2, 0.4371), (146.1, 0.4429), (146.9, 0.4473), (147.9, 0.4484),
    (148.9, 0.4479), (149.9, 0.4517), (150.7, 0.4568), (151.7, 0.4539), (152.5, 0.4561), (153.5, 0.4609),
    (154.4, 0.4591), (155.2, 0.4543), (156.2, 0.4568), (157, 0.4540), (158, 0.4599), (158.9, 0.4627),
    (159.7, 0.4660), (160.7, 0.4702), (161.5, 0.4679), (162.6, 0.4642), (163.5, 0.4605), (164.4, 0.4620),
    (165.4, 0.4664), (166.2, 0.4745), (167.1, 0.4682), (168.1, 0.4627), (169.1, 0.4618), (169.9, 0.4671),
    (170.8, 0.4660), (171.7, 0.4699), (172.7, 0.4685), (173.5, 0.4682), (174.5, 0.4642), (175.4, 0.4697),
    (176.4, 0.4724), (177.3, 0.4714), (178.2, 0.4653), (179.1, 0.4697), (180.1, 0.4738), (181, 0.4702),
]
us_ma100 = [
    (0, 0.4212), (4.9, 0.4197), (10.6, 0.4187), (16.2, 0.4168), (21.8, 0.4148), (27.4, 0.4135), (33.1, 0.4126),
    (38.7, 0.4120), (44.3, 0.4112), (51.4, 0.4114), (55.6, 0.4124), (59.8, 0.4131), (65.4, 0.4126),
    (69.6, 0.4121), (73.9, 0.4118), (78.1, 0.4124), (83.7, 0.4142), (89.3, 0.4162), (95, 0.4179),
    (100.6, 0.4190), (106.2, 0.4204), (111.9, 0.4221), (116.1, 0.4230), (121.7, 0.4254), (125.9, 0.4274),
    (131.6, 0.4293), (136.5, 0.4310), (141.4, 0.4322), (148.4, 0.4340), (154.1, 0.4366), (158.3, 0.4388),
    (162.5, 0.4414), (168.1, 0.4443), (173.8, 0.4469), (181, 0.4501),
]
us_upper = [
    (0, 0.4496), (3.5, 0.4476), (7.7, 0.4469), (11.3, 0.4462), (16.2, 0.4436), (20.4, 0.4385), (24.6, 0.4355),
    (29.5, 0.4315), (33.1, 0.4310), (38, 0.4293), (42.9, 0.4256), (47.1, 0.4256), (50, 0.4260), (55.6, 0.4280),
    (59.8, 0.4282), (65.4, 0.4280), (69.6, 0.4282), (76, 0.4282), (79.5, 0.4291), (83, 0.4295), (86.5, 0.4326),
    (89.3, 0.4351), (93.6, 0.4371), (100.6, 0.4392), (106.2, 0.4396), (109, 0.4407), (113.3, 0.4436),
    (117.5, 0.4465), (121, 0.4517), (124.5, 0.4554), (130.2, 0.4583), (134.4, 0.4612), (138.6, 0.4631),
    (142.8, 0.4643), (148.4, 0.4660), (152.7, 0.4680), (158.3, 0.4685), (163.9, 0.4690), (168.1, 0.4702),
    (172.4, 0.4723), (176.6, 0.4746), (181, 0.4773),
]
us_lower = [
    (0, 0.3927), (4.9, 0.3918), (10.6, 0.3910), (15.5, 0.3899), (19, 0.3912), (23.2, 0.3932), (27.4, 0.3947),
    (31.7, 0.3948), (37.3, 0.3956), (42.9, 0.3974), (48.5, 0.3971), (55.6, 0.3973), (59.8, 0.3979),
    (65.4, 0.3969), (72.5, 0.3958), (78.1, 0.3967), (82.3, 0.3984), (86.5, 0.3986), (89.3, 0.3975),
    (95, 0.3976), (102, 0.3984), (105.5, 0.4006), (109.8, 0.4011), (113.3, 0.4007), (117.5, 0.4006),
    (121.7, 0.3982), (124.5, 0.3979), (130.2, 0.3988), (137.2, 0.3996), (145.6, 0.4010), (149.9, 0.4021),
    (155.5, 0.4065), (159.7, 0.4120), (163.9, 0.4164), (168.1, 0.4190), (172.4, 0.4215), (181, 0.4225),
]

# ---------------- layout helpers ----------------
# plot-area boxes in pixels: (left, right, top, bottom)
BOXES = {
    1: (97.5, 1092, 71, 700),
    2: (85, 1130, 847, 1475),
    3: (123, 969, 1666, 2210),
    4: (91.6, 1130, 2358, 2986),
    5: (91.6, 1130, 3134, 3761),
}
TITLE_POS = {1: (594, 36), 2: (607, 811), 3: (499, 1587), 4: (610, 2322), 5: (610, 3099)}


def sfx(n):
    return "" if n == 1 else str(n)


fig = go.Figure()
annotations = []
shapes = []


def add_line(n, pts, color, width, name=None, legend=None, dash=None, fill=None, fillcolor=None):
    xs = [p[0] for p in pts]
    ys = [p[1] for p in pts]
    fig.add_trace(go.Scatter(
        x=xs, y=ys, mode="lines", xaxis="x" + sfx(n), yaxis="y" + sfx(n),
        line=dict(color=color, width=width, dash=dash), name=name,
        showlegend=name is not None, legend=legend or "legend",
        fill=fill, fillcolor=fillcolor, hoverinfo="skip",
    ))


def tag(n, text, x, y, color, size, yshift=0, xanchor="center"):
    annotations.append(dict(
        text=text, x=x, y=y, xref="x" + sfx(n), yref="y" + sfx(n), showarrow=False,
        xanchor=xanchor, yanchor="middle", yshift=yshift,
        font=dict(family=FONT, size=size, color=color),
        bordercolor=color, borderwidth=2, borderpad=3, bgcolor="white",
    ))


def hilo(n, hi, lo, fmt):
    tag(n, "고 " + fmt.format(hi[1]), hi[0], hi[1], HI, 22, yshift=46)
    tag(n, "저 " + fmt.format(lo[1]), lo[0], lo[1], LO, 22, yshift=-46)


def last_tag(n, x, y, fmt, color):
    add_line(n, [(x, y), (x + 7.3, y)], color, 1.6, dash="dot")
    tag(n, fmt.format(y), x + 7.3, y, color, 26, xanchor="left")


# ---- panel 1: 원달러
add_line(1, usd_pts, CRIMSON, 2.6)
add_line(1, usd_ma20, ORANGE, 3, name="20일선", legend="legend")
add_line(1, usd_ma60, GREEN, 3, name="60일선", legend="legend")
hilo(1, max(usd_pts, key=lambda p: p[1]), min(usd_pts, key=lambda p: p[1]), "{:,.1f}")
last_tag(1, usd_pts[-1][0], usd_pts[-1][1], "{:,.1f}", CRIMSON)

# ---- panel 2: 달러인덱스
shapes.append(dict(type="line", xref="x2 domain", yref="y2", x0=0, x1=1, y0=dxy_ref, y1=dxy_ref,
                   line=dict(color="#b3b8ca", width=1.5, dash="dash"), layer="below"))
annotations.append(dict(text=str(dxy_ref), xref="x2 domain", yref="y2", x=0.004, y=dxy_ref, yshift=15,
                        xanchor="left", showarrow=False, font=dict(family=FONT, size=20, color="#9a9cb2")))
add_line(2, dxy_pts, CRIMSON, 2.6)
add_line(2, dxy_ma20, ORANGE, 3, name="20일선", legend="legend2")
add_line(2, dxy_ma60, GREEN, 3, name="60일선", legend="legend2")
hilo(2, max(dxy_pts, key=lambda p: p[1]), min(dxy_pts, key=lambda p: p[1]), "{:.1f}")
last_tag(2, dxy_pts[-1][0], dxy_pts[-1][1], "{:.1f}", CRIMSON)

# ---- panel 3: WTI candles
days = list(range(len(wti_close)))
wick_x, wick_y = [], []
for d, hi_, lo_ in zip(days, wti_high, wti_low):
    wick_x += [d, d, None]
    wick_y += [lo_, hi_, None]
fig.add_trace(go.Scatter(x=wick_x, y=wick_y, mode="lines", line=dict(color="#555555", width=1),
                         xaxis="x3", yaxis="y3", showlegend=False, hoverinfo="skip"))
fig.add_trace(go.Bar(
    x=days,
    y=[max(abs(c - o), 0.2) for o, c in zip(wti_open, wti_close)],
    base=[min(o, c) for o, c in zip(wti_open, wti_close)],
    marker=dict(color=[UP if c >= o else DOWN for o, c in zip(wti_open, wti_close)], line=dict(width=0)),
    width=0.62, xaxis="x3", yaxis="y3", showlegend=False, hoverinfo="skip",
))
add_line(3, wti_ma20, ORANGE, 1.8)
add_line(3, wti_ma60, GREEN, 1.8)
i_hi = max(days, key=lambda d: wti_high[d])
i_lo = min(days, key=lambda d: wti_low[d])
hilo(3, (i_hi, wti_high[i_hi]), (i_lo, wti_low[i_lo]), "{:.0f}")
last_tag(3, days[-1], wti_close[-1], "{:.0f}", "#111111")

# ---- panel 4: 한국채3년
add_line(4, kr_lower, BAND, 2, dash="dash")
add_line(4, kr_upper, BAND, 2, dash="dash", fill="tonexty", fillcolor="rgba(200,205,222,0.22)")
add_line(4, kr_ma100, GREY, 3.5, name="100일선", legend="legend3")
add_line(4, kr_pts, CRIMSON, 2.6)
hilo(4, max(kr_pts, key=lambda p: p[1]), min(kr_pts, key=lambda p: p[1]), "{:.2f}")
last_tag(4, kr_pts[-1][0], kr_pts[-1][1], "{:.2f}", CRIMSON)

# ---- panel 5: 미국채10년
add_line(5, us_lower, BAND, 2, dash="dash")
add_line(5, us_upper, BAND, 2, dash="dash", fill="tonexty", fillcolor="rgba(200,205,222,0.22)")
add_line(5, us_ma100, GREY, 3.5, name="100일선", legend="legend4")
add_line(5, us_pts, CRIMSON, 2.6)
hilo(5, max(us_pts, key=lambda p: p[1]), min(us_pts, key=lambda p: p[1]), "{:.2f}")
last_tag(5, us_pts[-1][0], us_pts[-1][1], "{:.2f}", CRIMSON)

# ---- titles
for n, title in zip([1, 2, 3, 4, 5], [usd_title, dxy_title, wti_title, kr_title, us_title]):
    cx, cy = TITLE_POS[n]
    annotations.append(dict(text="<b>" + title + "</b>", xref="paper", yref="paper", x=cx / W, y=1 - cy / H,
                            xanchor="center", yanchor="middle", showarrow=False,
                            font=dict(family=FONT, size=35, color="#111111")))

# ---- axes
x_ranges = {1: [0, 200], 2: [0, 200], 3: [-0.5, 200], 4: [0, 197.7], 5: [0, 197.7]}
y_ranges = {1: [1337.8, 1564.9], 2: [95.95, 102.07], 3: [51.8, 122.6], 4: [2.083, 4.130], 5: [0.3855, 0.4816]}
y_ticks = {
    1: [1350, 1400, 1450, 1500, 1550],
    2: [96, 97, 98, 99, 100, 101, 102],
    3: [60, 70, 80, 90, 100, 110, 120],
    4: [2.25, 2.5, 2.75, 3.0, 3.25, 3.5, 3.75, 4.0],
    5: [0.40, 0.42, 0.44, 0.46, 0.48],
}
y_fmt = {1: "d", 2: "d", 3: "d", 4: ".2f", 5: ".2f"}
x_labels = {1: usd_ticks, 2: dxy_ticks, 3: wti_ticks, 4: kr_ticks, 5: us_ticks}

tickfont = dict(family=FONT, size=26, color="#222222")
layout_axes = {}
for n in range(1, 6):
    l, r, t, b = BOXES[n]
    wti = n == 3
    layout_axes["xaxis" + sfx(n)] = dict(
        domain=[l / W, r / W], anchor="y" + sfx(n), range=x_ranges[n],
        tickvals=TICK_POS, ticktext=x_labels[n], tickfont=tickfont,
        ticks="outside", ticklen=7, tickwidth=1.5, tickcolor="#333333",
        showgrid=True, gridcolor="#d2d2d2" if wti else "#cfcfcf", gridwidth=2 if wti else 1.5,
        showline=True, linecolor="#e6e6e6", linewidth=2, mirror=True, zeroline=False, automargin=False,
    )
    layout_axes["yaxis" + sfx(n)] = dict(
        domain=[1 - b / H, 1 - t / H], anchor="x" + sfx(n), range=y_ranges[n],
        tickvals=y_ticks[n], tickformat=y_fmt[n], tickfont=tickfont,
        side="right" if wti else "left",
        ticks="outside", ticklen=7, tickwidth=1.5, tickcolor="#333333",
        showgrid=True, gridcolor="#d2d2d2" if wti else "#ebebeb", gridwidth=2,
        showline=True, linecolor="#e6e6e6", linewidth=2, mirror=True, zeroline=False, automargin=False,
    )
layout_axes["yaxis3"]["title"] = dict(text="Price", font=dict(family="DejaVu Sans", size=22, color="#222222"),
                                      standoff=14)


def legend_at(px, py):
    return dict(x=px / W, y=1 - py / H, xanchor="left", yanchor="top", bgcolor="rgba(0,0,0,0)",
                font=dict(family=FONT, size=21, color="#333333"), itemwidth=40, tracegroupgap=0,
                traceorder="normal")


fig.update_layout(
    width=W, height=H,
    margin=dict(l=0, r=0, t=0, b=0),
    paper_bgcolor="white", plot_bgcolor="#fafafa",
    showlegend=True, bargap=0,
    legend=legend_at(104, 84),
    legend2=legend_at(92, 860),
    legend3=legend_at(98, 2371),
    legend4=legend_at(98, 3148),
    annotations=annotations, shapes=shapes,
    **layout_axes,
)

fig.write_html("out.html")
